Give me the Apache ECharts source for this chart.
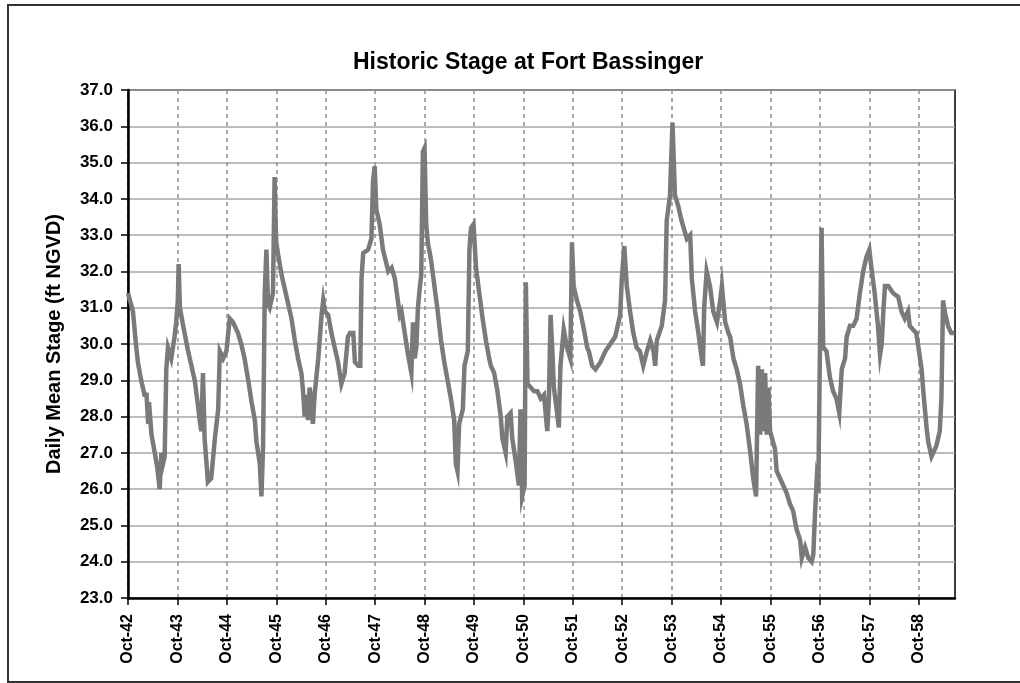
<!DOCTYPE html>
<html>
<head>
<meta charset="utf-8">
<title>Historic Stage at Fort Bassinger</title>
<script src="https://cdn.jsdelivr.net/npm/echarts@6/dist/echarts.min.js"></script>
<style>
html, body { margin: 0; padding: 0; background: #fff; }
#main { width: 1020px; height: 683px; }
</style>
</head>
<body>
<div id="main"></div>
<script>
// months counted from 1 Oct 1942, stage in ft NGVD
var months = [
  0, 1.2, 2.0, 2.4, 3.2, 4.0, 4.5, 4.9, 5.1, 5.7, 6.5, 7.1, 7.7, 8.1, 8.5, 8.9, 9.3, 9.7, 10.5, 11.3,
  11.7, 12.1, 12.3, 12.6, 13.4, 14.6, 15.4, 16.2, 17.0, 17.4, 17.8, 18.2, 18.6, 19.4, 20.2, 21.1, 21.9, 22.3, 23.1, 23.9,
  24.7, 25.5, 26.7, 27.5, 28.3, 29.2, 30.0, 30.8, 31.2, 32.0, 32.4, 32.8, 33.2, 33.6, 34.0, 34.4, 35.2, 35.6, 35.8, 36.0,
  36.4, 37.3, 38.5, 39.7, 40.5, 41.3, 42.1, 42.5, 42.9, 43.3, 43.7, 44.1, 44.9, 45.3, 46.2, 47.0, 47.4, 47.8, 48.6, 49.4,
  50.2, 51.0, 51.8, 52.6, 53.4, 53.9, 54.7, 55.1, 55.9, 56.4, 56.7, 57.1, 58.3, 59.1, 59.5, 59.9, 60.3, 61.1, 61.9, 63.2,
  64.0, 64.8, 66.0
];
var stage = [
  31.4, 30.9, 29.9, 29.5, 29.0, 28.6, 28.6, 27.8, 28.4, 27.5, 27.0, 26.6, 26.0, 27.0, 26.7, 26.9, 29.3, 29.9, 29.6, 30.2,
  30.6, 31.2, 32.2, 31.0, 30.5, 29.8, 29.4, 29.0, 28.3, 27.9, 27.6, 29.2, 27.4, 26.2, 26.3, 27.4, 28.2, 29.8, 29.6, 29.8,
  30.7, 30.6, 30.3, 30.0, 29.6, 29.0, 28.4, 27.9, 27.3, 26.7, 25.8, 27.2, 31.4, 32.6, 31.1, 31.0, 31.4, 34.6, 33.5, 32.8,
  32.5, 31.9, 31.3, 30.7, 30.1, 29.6, 29.2, 28.7, 28.0, 28.6, 27.9, 28.8, 27.8, 28.6, 29.6, 30.8, 31.2, 30.9, 30.8, 30.3,
  29.9, 29.5, 28.9, 29.2, 30.2, 30.3, 30.3, 29.5, 29.4, 29.4, 31.8, 32.5, 32.6, 32.9, 34.5, 34.9, 33.7, 33.3, 32.6, 32.0,
  32.1, 31.8, 30.8
];

var months2 = [
  66.4, 67.2, 68.0, 68.8, 69.2, 69.6, 70.0, 70.4, 70.8, 71.2, 71.6, 72.0, 72.4, 72.8, 73.6, 74.4, 75.2, 76.0, 76.8, 77.6,
  78.4, 79.2, 79.6, 80.0, 80.4, 81.3, 81.7, 82.5, 82.9, 83.3, 83.9, 84.5, 85.3, 86.1, 86.9, 87.7, 88.1, 88.9, 89.7, 90.5,
  90.9, 91.7, 92.1, 92.9, 93.3, 94.1, 94.9, 95.3, 95.7, 96.3, 96.6, 97.0, 97.8, 98.6, 99.4, 100.2, 101.0, 101.8, 102.2, 102.6,
  103.0, 103.4, 104.2, 104.6, 105.0, 105.8, 106.6, 107.4, 107.8, 108.2, 109.0, 109.8, 110.7, 111.5, 111.9, 112.7, 113.5, 114.7, 115.9, 117.1,
  118.3, 119.5, 119.9, 120.5, 121.1, 121.9, 122.7, 123.5, 124.3, 125.1, 126.0, 126.8, 127.6, 128.0, 128.4, 129.6, 130.4, 130.8, 131.6, 132.2,
  132.8, 133.6, 134.4
];
var stage2 = [
  30.9, 30.3, 29.7, 29.2, 30.6, 29.6, 29.9, 31.0, 31.5, 31.9, 35.3, 35.4, 33.3, 32.8, 32.3, 31.6, 30.9, 30.1, 29.5, 29.0,
  28.5, 27.9, 26.7, 26.5, 27.8, 28.2, 29.4, 29.8, 32.6, 33.2, 33.3, 32.1, 31.4, 30.7, 30.1, 29.6, 29.4, 29.2, 28.7, 28.0,
  27.4, 27.0, 28.0, 28.1, 27.4, 26.8, 26.1, 28.2, 25.8, 26.1, 31.7, 28.9, 28.8, 28.7, 28.7, 28.5, 28.6, 27.6, 28.5, 30.8,
  29.9, 28.8, 28.1, 27.7, 29.4, 30.4, 29.9, 29.6, 32.8, 31.6, 31.2, 30.9, 30.4, 29.9, 29.8, 29.4, 29.3, 29.5, 29.8, 30.0,
  30.2, 30.8, 31.8, 32.7, 31.6, 30.9, 30.3, 29.9, 29.8, 29.4, 29.8, 30.1, 29.8, 29.4, 30.1, 30.5, 31.2, 33.4, 34.1, 36.1,
  34.1, 33.8, 33.4
];

var months3 = [
  135.7, 136.5, 136.9, 137.7, 138.5, 139.3, 139.6, 139.9, 140.5, 141.3, 142.1, 143.0, 143.8, 144.2, 145.0, 145.8, 146.2, 147.0, 147.8, 148.6,
  149.4, 150.2, 151.0, 151.8, 152.5, 153.0, 153.5, 153.9, 154.3, 154.7, 155.1, 155.5, 155.9, 156.3, 157.1, 157.5, 158.3, 159.1, 159.9, 160.7,
  161.5, 162.3, 163.2, 163.6, 164.4, 165.2, 166.0, 166.4, 166.8, 167.2, 167.6, 168.0, 168.4, 168.8, 169.6, 170.4, 171.2, 172.0, 172.7, 173.3,
  174.1, 174.5, 175.3, 176.1, 176.9, 177.7, 178.5, 179.3, 180.0, 180.5, 181.3, 182.1, 182.6, 183.0, 183.4, 183.8, 184.6, 185.8, 187.0, 187.8,
  188.6, 189.4, 189.8, 190.6, 191.4, 191.8, 192.7, 193.1, 193.9, 194.3, 195.1, 196.3, 197.1, 197.5, 197.9, 198.3, 199.1, 199.9, 200.7
];
var stage3 = [
  32.9, 33.0, 31.8, 30.9, 30.3, 29.6, 29.4, 31.0, 32.0, 31.6, 30.9, 30.6, 31.2, 31.6, 30.6, 30.3, 30.2, 29.6, 29.3, 28.9,
  28.3, 27.8, 27.1, 26.3, 25.8, 29.4, 27.5, 29.3, 27.6, 29.2, 27.5, 28.8, 27.6, 27.6, 27.1, 26.5, 26.3, 26.1, 25.9, 25.6,
  25.4, 24.9, 24.6, 24.1, 24.4, 24.1, 24.0, 24.2, 25.3, 26.2, 25.9, 29.8, 33.2, 29.9, 29.8, 29.1, 28.7, 28.5, 28.1, 29.3,
  29.6, 30.2, 30.5, 30.5, 30.7, 31.4, 32.0, 32.4, 32.6, 32.1, 31.4, 30.5, 29.7, 30.0, 30.9, 31.6, 31.6, 31.4, 31.3, 30.9,
  30.7, 30.9, 30.5, 30.4, 30.3, 30.0, 29.3, 28.7, 27.7, 27.3, 26.9, 27.2, 27.6, 28.5, 31.2, 30.9, 30.5, 30.3, 30.3
];

// tick positions (months) and labels of the x axis
var yearTicks = [0, 12, 24, 36, 48, 60, 72, 84, 96, 108, 120, 132, 144, 156, 168, 180, 192];
var yearLabels = ['Oct-42', 'Oct-43', 'Oct-44', 'Oct-45', 'Oct-46', 'Oct-47', 'Oct-48', 'Oct-49', 'Oct-50',
  'Oct-51', 'Oct-52', 'Oct-53', 'Oct-54', 'Oct-55', 'Oct-56', 'Oct-57', 'Oct-58'];

var allMonths = months.concat(months2, months3);
var allStage = stage.concat(stage2, stage3);
var seriesData = allMonths.map(function (m, i) { return [m, allStage[i]]; });

var font = "'Liberation Sans', Arial, sans-serif";

var myChart = echarts.init(document.getElementById('main'));
var option = {
    backgroundColor: '#fff',
    animation: false,
    title: {
        text: 'Historic Stage at Fort Bassinger',
        left: 348,
        top: 46,
        textStyle: { fontFamily: font, fontSize: 23, fontWeight: 'bold', color: '#000' }
    },
    grid: {
        left: 128,
        right: 65,
        top: 90,
        bottom: 85,
        show: true,
        borderColor: '#000',
        borderWidth: 1.5
    },
    xAxis: {
        type: 'value',
        min: 0,
        max: 200.8,
        interval: 12,
        axisLine: { lineStyle: { color: '#000', width: 2.5 } },
        axisTick: {
            length: 7,
            customValues: yearTicks,
            lineStyle: { color: '#000', width: 1.5 }
        },
        axisLabel: {
            customValues: yearTicks,
            rotate: 90,
            margin: 16,
            fontFamily: font,
            fontSize: 16,
            fontWeight: 'bold',
            color: '#000',
            formatter: function (v) {
                var i = yearTicks.indexOf(v);
                return i >= 0 ? yearLabels[i] : '';
            }
        },
        splitLine: { show: true, lineStyle: { color: '#8f8f8f', width: 1.5, type: [4, 4] } }
    },
    yAxis: {
        type: 'value',
        min: 23,
        max: 37,
        interval: 1,
        name: 'Daily Mean Stage (ft NGVD)',
        nameLocation: 'middle',
        nameGap: 64,
        nameTextStyle: { fontFamily: font, fontSize: 20, fontWeight: 'bold', color: '#000' },
        axisLine: { show: true, lineStyle: { color: '#000', width: 2.5 } },
        axisTick: { show: true, length: 7, lineStyle: { color: '#000', width: 1.5 } },
        axisLabel: {
            margin: 15,
            fontFamily: font,
            fontSize: 17,
            fontWeight: 'bold',
            color: '#000',
            formatter: function (v) { return v.toFixed(1); }
        },
        splitLine: { show: true, lineStyle: { color: '#a6a6a6', width: 1.5 } }
    },
    graphic: [
        {
            type: 'rect',
            shape: { x: 8, y: 5, width: 1030, height: 677 },
            style: { fill: 'none', stroke: '#333', lineWidth: 2 },
            silent: true
        }
    ],
    series: [
        {
            name: 'Daily Mean Stage',
            type: 'line',
            data: seriesData,
            showSymbol: false,
            symbol: 'none',
            lineStyle: { color: '#7a7a7a', width: 4.5, join: 'miter' },
            z: 3
        }
    ]
};
myChart.setOption(option);
</script>
</body>
</html>
